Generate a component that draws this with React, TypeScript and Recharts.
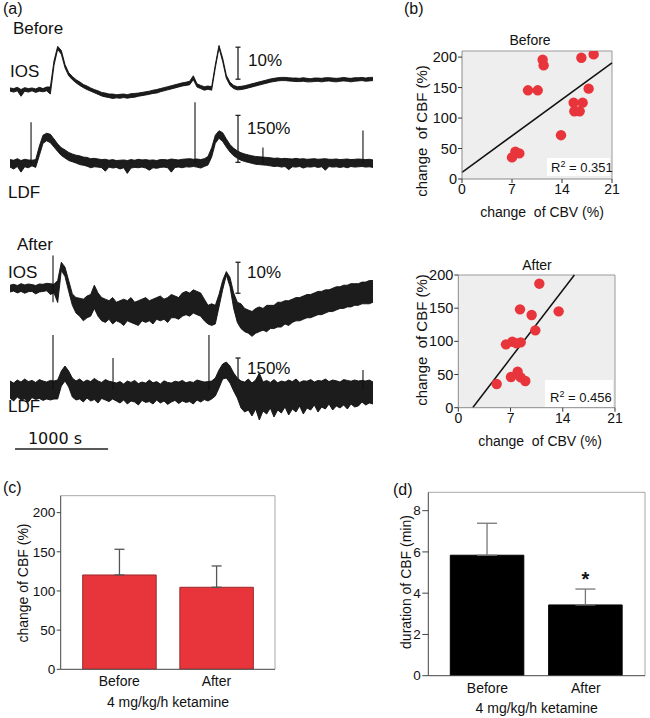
import React from 'react';
import {
  ComposedChart, Area, XAxis, YAxis, ReferenceLine, ScatterChart, Scatter,
  CartesianGrid, BarChart, Bar, ErrorBar, LabelList,
} from 'recharts';

const FONT = '"Liberation Sans", Arial, Helvetica, sans-serif';
const RED = '#e8353b';
const TEXT = '#111';

// ---------- (a) recordings: noise envelope (upper / lower) sampled every SAMPLE_SECONDS ----------
const SAMPLE_SECONDS = 39.4;
const SCALE_BAR_TIME = 2450;

const iosBeforeUpper = [
  0.7, 0.5, 0.9, 0.2, 0.8, 0.5, 0.7, 0.4, 0.9, 0.5, 1.0,
  1.0, 9.2, 13.7, 12.4, 8.0, 5.5, 4.3, 3.3, 2.6, 1.8, 1.3, 0.7, 0.2, -0.2,
  -0.7, -0.9, -1.2, -1.2, -1.4, -1.3, -1.2, -1.4, -1.1, -1.0, -0.9,
  -0.7, -0.5, -0.3, 0.0, 0.2, 0.5, 0.8, 1.1, 1.4, 1.7, 2.0,
  2.3, 2.5, 2.8, 4.5, 2.0, 1.5, 1.1, 1.3, 1.1,
  8.0, 14.0, 10.0, 4.7, 2.5, 1.5, 1.1, 1.2,
  1.4, 1.7, 2.0, 2.3, 2.6, 2.9, 3.2, 3.5, 3.7, 3.9, 4.0,
  4.0, 3.9, 3.8, 3.8, 3.7, 3.9, 3.7, 3.6, 3.8, 3.8, 3.7, 3.9, 3.9, 3.8, 3.7, 3.8, 4.0, 3.8, 3.7, 3.9, 3.9, 4.0, 3.8, 4.0, 4.0,
];
const iosBeforeLower = [
  -0.3, -0.6, -0.2, -1.9, -0.3, -0.6, -0.2, -0.7, -0.3, -0.5, -0.2,
  -1.2, 7.8, 12.8, 11.2, 7.0, 4.5, 3.3, 2.3, 1.5, 0.8, 0.2, -0.3, -0.8, -1.3,
  -1.8, -2.1, -2.3, -2.6, -2.4, -2.5, -2.3, -2.5, -2.3, -2.2, -1.9,
  -1.7, -1.5, -1.3, -1.0, -0.9, -0.5, -0.2, 0.1, 0.4, 0.7, 1.0,
  1.3, 1.5, 1.7, 3.3, 1.0, 0.5, 0.0, 0.3, 0.0,
  7.0, 13.2, 9.0, 3.7, 1.5, 0.5, 0.1, 0.2,
  0.4, 0.7, 1.0, 1.3, 1.6, 1.9, 2.2, 2.5, 2.7, 2.9, 3.0,
  3.0, 2.9, 2.8, 2.7, 2.7, 2.8, 2.6, 2.6, 2.7, 2.8, 2.6, 2.8, 2.9, 2.7, 2.6, 2.8, 2.9, 2.8, 2.6, 2.8, 2.9, 3.0, 2.8, 2.9, 3.0,
];

const ldfBeforeUpper = [
  12, 10, 15, 9, 13, 11,
  10,
  12, 55, 90, 96, 93, 78, 62, 50, 43, 35, 30, 26, 24, 20, 19, 15, 16,
  14, 12, 13, 10, 12, 9, 10, 11, 9, 12, 10, 13, 11, 12, 10, 11, 9, 12, 12, 11, 14, 12, 11, 13, 14, 15,
  13,
  14, 12, 15, 22,
  50, 90, 104, 98, 78, 60, 48, 40, 34, 30, 27, 24, 22, 21, 20, 19,
  18, 16, 17, 15, 16, 15, 14, 16, 14, 15, 13, 14, 15, 13, 14, 15, 13, 13, 14, 12, 13, 14, 12, 13, 14,
  13,
  12, 13, 11,
];
const ldfBeforeLower = [
  -12, -18, -10, -28, -11, -14,
  -8,
  -13, 25, 64, 72, 66, 52, 38, 25, 17, 9, 5, 1, -4, -6, -9, -14, -11,
  -12, -14, -25, -12, -15, -13, -18, -14, -32, -15, -13, -14, -12, -15, -22, -14, -16, -13, -12, -14, -28, -13, -12, -14, -11, -12,
  -10,
  -12, -15, -10, -5,
  20, 64, 80, 70, 52, 36, 24, 16, 10, 6, 3, 0, -3, -4, -5, -6,
  -8, -10, -9, -12, -10, -20, -11, -12, -10, -15, -11, -12, -10, -13, -11, -22, -10, -12, -11, -13, -11, -14, -10, -12, -11,
  -10,
  -12, -11, -13,
];
// thin artefact spikes: time (s), foot, tip
const ldfBeforeSpikeT = [226, 1988, 2718, 3793];
const ldfBeforeSpikeFoot = [0, 0, 0, 0];
const ldfBeforeSpikeTip = [131, 195, 51, 105];

const iosAfterUpper = [
  1.0, 1.3, 0.9, 1.5, 1.1, 1.4, 1.2, 0.9, 1.4, 1.3, 1.6,
  1.5,
  1.3, 2.5, 8.4, 6.8, 2.5, -1.8, -3.0, -3.2,
  -3.5, -2.5, -2.0, 1.0, -1.5, -3.0, -3.5, -4.0, -3.0, -4.5, -4.0, -3.5, -4.0, -3.0, -4.5, -4.0, -3.5, -3.0, -4.0, -3.5,
  -3.0, -2.5, -3.5, -3.0, -2.0, -2.5, -3.0, -1.5, -1.0, -1.5,
  -0.5, -1.0, -1.5, -3.5, -5.5, -5.0,
  -5.5, -2.0, 2.5, 5.4, 3.5, -1.5, -4.5, -5.0,
  -6.5, -7.0, -7.5, -6.5, -6.0, -6.5, -5.5, -5.5, -5.5, -4.5, -4.5, -4.0, -4.0, -3.5, -3.0, -3.0, -2.5, -2.0,
  -2.0, -1.5, -1.0, -1.0, -0.5, -0.5, 0.0, 0.5, 0.5, 1.0, 1.0, 1.5, 1.5, 1.5, 2.0, 2.0, 2.5, 2.5,
];
const iosAfterLower = [
  -1.2, -0.9, -1.5, -1.0, -1.6, -1.1, -1.0, -1.8, -1.2, -1.0, -0.8,
  -2.0,
  -1.5, -4.6, 5.8, 3.8, -1.0, -5.5, -8.0, -9.0,
  -10.5, -9.5, -9.0, -6.5, -9.0, -10.5, -11.0, -10.0, -11.5, -10.5, -11.0, -12.0, -10.5, -11.0, -11.5, -12.0, -10.5, -11.0, -10.5, -11.5,
  -10.0, -10.5, -10.0, -11.0, -9.5, -9.5, -10.0, -9.0, -8.5, -9.0,
  -8.0, -8.5, -9.0, -10.5, -11.5, -12.0,
  -11.5, -6.0, -0.5, 4.2, 0.5, -6.5, -11.0, -13.0,
  -14.0, -14.5, -15.5, -14.5, -14.0, -13.5, -14.0, -13.0, -13.0, -12.5, -12.5, -11.5, -12.0, -11.0, -10.5, -10.5, -10.0, -9.5,
  -9.5, -9.0, -8.5, -8.5, -8.0, -7.5, -7.5, -7.0, -6.5, -6.5, -6.0, -6.0, -5.5, -5.5, -5.0, -5.0, -5.0, -4.5,
];
const iosAfterSpikeT = [462];
const iosAfterSpikeFoot = [-4.5];
const iosAfterSpikeTip = [10.6];

const ldfAfterUpper = [
  45, 35, 50, 40, 55, 42, 48, 38, 52, 45, 40, 48,
  45, 50, 95, 120, 95, 60,
  45, 55, 40, 50, 42, 58, 45, 38, 52, 44,
  40,
  35, 42, 30, 45, 38, 48, 32, 40, 35, 50, 36, 42, 30, 46, 38, 35, 44, 40, 48, 36, 42, 38, 50, 45, 40,
  42,
  45, 60, 100, 130, 140, 120, 85, 60,
  45, 40, 55, 35, 50, 85, 40, 48, 38, 52, 36, 45, 40, 50, 42, 55, 38, 46, 44, 52, 40, 48, 45, 55, 42, 50, 46, 40, 52, 48, 44, 50, 45,
  48,
  45, 50, 40,
];
const ldfAfterLower = [
  -40, -55, -35, -50, -45, -60, -38, -48, -42, -52, -45, -50,
  -45, -45, 20, 45, 15, -35,
  -50, -45, -60, -40, -55, -48, -65, -42, -50, -58,
  -45,
  -55, -65, -50, -70, -55, -60, -75, -52, -62, -58, -70, -50, -65, -55, -72, -60, -52, -68, -55, -62, -58, -70, -50, -60, -48,
  -55,
  -45, -30, 10, 55, 60, 35, -5, -40,
  -90, -110, -100, -130, -95, -150, -105, -120, -90, -135, -100, -115, -85, -125, -95, -110, -80, -120, -90, -100, -75, -110, -85, -95, -70, -100, -80, -90, -75, -95, -70, -85, -80,
  -60,
  -75, -65, -70,
];
const ldfAfterSpikeT = [462, 1107, 2138, 3793];
const ldfAfterSpikeFoot = [0, 0, 0, 0];
const ldfAfterSpikeTip = [275, 160, 275, 100];

// ---------- (b) CBV vs CBF ----------
const cbvBefore = [7.0, 7.47, 8.03, 9.24, 10.6, 11.29, 11.43, 13.86, 15.63, 15.73, 16.47, 16.89, 16.71, 17.73, 18.43];
const cbfBefore = [35.4, 44.7, 42, 145.5, 145.5, 195.6, 186.4, 71.9, 125.3, 111.2, 111.2, 125.3, 198.9, 148.2, 204.4];
const fitBefore = { intercept: 10.9, slope: 8.56, r2: '0.351' };

const cbvAfter = [5.14, 7.06, 6.39, 7.24, 7.82, 8.36, 7.95, 8.36, 8.98, 8.27, 9.83, 10.32, 10.86, 13.45];
const cbfAfter = [35.7, 46.2, 95.5, 99.5, 97, 98.5, 54.3, 45.7, 40.2, 148.2, 139.7, 116.6, 186.9, 145.2];
const fitAfter = { intercept: -28.2, slope: 14.67, r2: '0.456' };

const cbvTicks = [0, 7, 14, 21];
const cbfTicks = [0, 50, 100, 150, 200];

// ---------- (c), (d) ----------
const groups = ['Before', 'After'];
const cbfChange = [120.4, 104.7];
const cbfChangeSem = [32.8, 27.2];
const cbfDuration = [5.84, 3.43];
const cbfDurationSem = [1.55, 0.77];
const significance = ['', '*'];
const durationTicks = [0, 2, 4, 6, 8];

// ---------- helpers ----------
function T({ x, y, size = 14, children, rotate = false, align = 'center', family = FONT, weight = 400 }: any) {
  const tx = align === 'center' ? '-50%' : '0';
  return (
    <div
      style={{
        position: 'absolute', left: x, top: y, fontSize: size, fontFamily: family, fontWeight: weight,
        lineHeight: 1, whiteSpace: 'pre', color: TEXT,
        transform: `translate(${tx}, -50%)${rotate ? ' rotate(-90deg)' : ''}`,
      }}
    >
      {children}
    </div>
  );
}

function Trace({ upper, lower, spikes, left, baselineY, width, pxPerUnit, lo, hi, scaleBar, timeBar }: any) {
  const height = (hi - lo) * pxPerUnit;
  const top = baselineY - hi * pxPerUnit;
  const data = upper.map((u: number, i: number) => ({ t: i * SAMPLE_SECONDS, band: [lower[i], u] }));
  const tMax = (upper.length - 1) * SAMPLE_SECONDS;
  const cap = 27;
  return (
    <div style={{ position: 'absolute', left, top, width, height }}>
      <ComposedChart width={width} height={height} data={data} margin={{ top: 0, right: 0, bottom: 0, left: 0 }}>
        <XAxis type="number" dataKey="t" domain={[0, tMax]} hide />
        <YAxis type="number" domain={[lo, hi]} hide allowDataOverflow />
        <Area type="linear" dataKey="band" stroke="#111" strokeWidth={0.9} fill="#1c1c1c" fillOpacity={1}
          dot={false} activeDot={false} isAnimationActive={false} />
        {spikes && spikes[0].map((t: number, k: number) => (
          <ReferenceLine key={k} ifOverflow="visible" stroke="#111" strokeWidth={1.1}
            segment={[{ x: t, y: spikes[1][k] }, { x: t, y: spikes[2][k] }]} />
        ))}
        <ReferenceLine ifOverflow="visible" stroke="#222" strokeWidth={1.3}
          segment={[{ x: SCALE_BAR_TIME, y: scaleBar[0] }, { x: SCALE_BAR_TIME, y: scaleBar[0] + scaleBar[1] }]} />
        <ReferenceLine ifOverflow="visible" stroke="#222" strokeWidth={1.3}
          segment={[{ x: SCALE_BAR_TIME - cap, y: scaleBar[0] }, { x: SCALE_BAR_TIME + cap, y: scaleBar[0] }]} />
        <ReferenceLine ifOverflow="visible" stroke="#222" strokeWidth={1.3}
          segment={[{ x: SCALE_BAR_TIME - cap, y: scaleBar[0] + scaleBar[1] }, { x: SCALE_BAR_TIME + cap, y: scaleBar[0] + scaleBar[1] }]} />
        {timeBar && (
          <ReferenceLine ifOverflow="visible" stroke="#222" strokeWidth={1.3}
            segment={[{ x: timeBar[0], y: timeBar[2] }, { x: timeBar[0] + timeBar[1], y: timeBar[2] }]} />
        )}
      </ComposedChart>
    </div>
  );
}

const tickStyle14 = { fontSize: 14, fill: TEXT, fontFamily: FONT };

function CorrPlot({ left, top, width, height, margin, yAxisWidth, xAxisHeight, xs, ys, yMax, fit }: any) {
  const data = xs.map((x: number, i: number) => ({ x, y: ys[i] }));
  const x0 = Math.max(0, (0 - fit.intercept) / fit.slope);
  const x1 = Math.min(21, (yMax - fit.intercept) / fit.slope);
  return (
    <div style={{ position: 'absolute', left, top, width, height }}>
      <ScatterChart width={width} height={height} margin={margin}>
        <CartesianGrid fill="#eeeeee" fillOpacity={1} stroke="#9a9a9a"
          horizontalCoordinatesGenerator={({ offset }: any) => [offset.top]}
          verticalCoordinatesGenerator={({ offset }: any) => [offset.left + offset.width]} />
        <XAxis type="number" dataKey="x" domain={[0, 21]} ticks={cbvTicks} height={xAxisHeight}
          tick={tickStyle14} tickSize={4} tickMargin={1} axisLine={{ stroke: '#8a8a8a' }} tickLine={{ stroke: '#333' }} allowDataOverflow />
        <YAxis type="number" dataKey="y" domain={[0, yMax]} ticks={cbfTicks} width={yAxisWidth}
          tick={{ ...tickStyle14, fontSize: 14.5 }} tickSize={4} tickMargin={1} axisLine={{ stroke: '#8a8a8a' }} tickLine={{ stroke: '#333' }} allowDataOverflow />
        <ReferenceLine ifOverflow="visible" stroke="#111" strokeWidth={1.5}
          segment={[{ x: x0, y: fit.intercept + fit.slope * x0 }, { x: x1, y: fit.intercept + fit.slope * x1 }]} />
        <Scatter data={data} isAnimationActive={false}
          shape={(p: any) => <circle cx={p.cx} cy={p.cy} r={5.2} fill={RED} />} />
      </ScatterChart>
    </div>
  );
}

function BarPanel({ left, top, width, height, margin, yAxisWidth, xAxisHeight, means, sems, yMax, yTicks, fill, stroke, errColor, capWidth, yTickSize, sig }: any) {
  const data = groups.map((g, i) => ({ group: g, mean: means[i], err: [0, sems[i]], sig: sig ? sig[i] : '' }));
  return (
    <div style={{ position: 'absolute', left, top, width, height }}>
      <BarChart width={width} height={height} data={data} margin={margin}>
        <CartesianGrid fill="none" stroke="#a8a8a8"
          horizontalCoordinatesGenerator={({ offset }: any) => [offset.top]}
          verticalCoordinatesGenerator={({ offset }: any) => [offset.left + offset.width]} />
        <XAxis dataKey="group" padding={{ left: 10, right: 10 }} height={xAxisHeight} tickLine={false}
          tickSize={4} tickMargin={3} tick={tickStyle14} axisLine={{ stroke: '#444' }} />
        <YAxis type="number" domain={[0, yMax]} ticks={yTicks} width={yAxisWidth} tickSize={yTickSize} tickMargin={1.5}
          tick={{ ...tickStyle14, fontSize: 13.5 }} axisLine={{ stroke: '#444' }} tickLine={{ stroke: '#444' }} allowDataOverflow />
        <Bar dataKey="mean" fill={fill} stroke={stroke} strokeWidth={1} barSize={73.5} isAnimationActive={false}>
          <ErrorBar dataKey="err" width={capWidth} stroke={errColor} strokeWidth={1.3} direction="y" />
          {sig && (
            <LabelList dataKey="sig" position="top" offset={19}
              style={{ fontSize: 20, fontWeight: 700, fill: TEXT, fontFamily: FONT }} />
          )}
        </Bar>
      </BarChart>
    </div>
  );
}

export default function App() {
  return (
    <div style={{ position: 'absolute', left: 0, top: 0, width: 650, height: 718, background: '#fff', overflow: 'hidden', fontFamily: FONT }}>
      {/* (a) */}
      <Trace upper={iosBeforeUpper} lower={iosBeforeLower} left={10} width={363} baselineY={90} pxPerUnit={3.2} lo={-6} hi={16} scaleBar={[3.44, 10]} />
      <Trace upper={ldfBeforeUpper} lower={ldfBeforeLower} spikes={[ldfBeforeSpikeT, ldfBeforeSpikeFoot, ldfBeforeSpikeTip]}
        left={10} width={363} baselineY={163} pxPerUnit={47 / 150} lo={-55} hi={215} scaleBar={[3.2, 150]} />
      <Trace upper={iosAfterUpper} lower={iosAfterLower} spikes={[iosAfterSpikeT, iosAfterSpikeFoot, iosAfterSpikeTip]}
        left={10} width={363} baselineY={288} pxPerUnit={3.1} lo={-16} hi={13} scaleBar={[-1.6, 10]} />
      <Trace upper={ldfAfterUpper} lower={ldfAfterLower} spikes={[ldfAfterSpikeT, ldfAfterSpikeFoot, ldfAfterSpikeTip]}
        left={10} width={363} baselineY={390} pxPerUnit={0.2} lo={-325} hi={300} scaleBar={[10, 150]}
        timeBar={[54, 1000, -295]} />

      <T x={3} y={9} size={16} align="left">(a)</T>
      <T x={13} y={27.5} size={17} align="left">Before</T>
      <T x={10} y={70.8} size={17} align="left">IOS</T>
      <T x={248} y={60} size={17} align="left">10%</T>
      <T x={247} y={127.5} size={17} align="left">150%</T>
      <T x={8} y={192} size={17} align="left">LDF</T>
      <T x={17} y={243.5} size={17} align="left">After</T>
      <T x={8} y={271.5} size={17} align="left">IOS</T>
      <T x={247} y={271.5} size={17} align="left">10%</T>
      <T x={247} y={367.5} size={17} align="left">150%</T>
      <T x={8} y={405.5} size={17} align="left">LDF</T>
      <T x={55} y={439} size={16} family='"DejaVu Sans", sans-serif'>1000 s</T>

      {/* (b) */}
      <T x={404} y={9} size={16} align="left">(b)</T>
      <CorrPlot left={400} top={20} width={230} height={200} margin={{ top: 31, right: 18, left: 0, bottom: 0 }}
        yAxisWidth={62} xAxisHeight={41} xs={cbvBefore} ys={cbfBefore} yMax={210} fit={fitBefore} />
      <T x={530} y={40} size={14}>Before</T>
      <T x={421} y={131} size={15} rotate>change  of CBF (%)</T>
      <T x={542} y={212} size={14}>change  of CBV (%)</T>
      <div style={{ position: 'absolute', left: 547, top: 158, width: 63, height: 18, background: '#fff' }} />
      <T x={551} y={167} size={13} align="left">R<sup style={{ fontSize: 9 }}>2</sup> = {fitBefore.r2}</T>

      <CorrPlot left={400} top={235} width={230} height={200} margin={{ top: 40, right: 15, left: 0, bottom: 0 }}
        yAxisWidth={58.3} xAxisHeight={27.3} xs={cbvAfter} ys={cbfAfter} yMax={200} fit={fitAfter} />
      <T x={537} y={265} size={14}>After</T>
      <T x={421} y={340} size={15} rotate>change  of CBF (%)</T>
      <T x={540} y={441} size={14}>change  of CBV (%)</T>
      <div style={{ position: 'absolute', left: 545, top: 380, width: 68, height: 27, background: '#fff' }} />
      <T x={550} y={397} size={13} align="left">R<sup style={{ fontSize: 9 }}>2</sup> = {fitAfter.r2}</T>

      {/* (c) */}
      <T x={3} y={487.5} size={16} align="left">(c)</T>
      <BarPanel left={0} top={470} width={300} height={248} margin={{ top: 25.7, right: 25, left: 0, bottom: 0 }}
        yAxisWidth={60.7} xAxisHeight={48.7} means={cbfChange} sems={cbfChangeSem} yMax={221.6} yTicks={cbfTicks}
        fill={RED} stroke="#9b2a2a" errColor="#555" capWidth={5} yTickSize={4} />
      <T x={22.5} y={583} size={14} rotate>change of CBF (%)</T>
      <T x={168} y={702} size={14}>4 mg/kg/h ketamine</T>

      {/* (d) */}
      <T x={393} y={490} size={16} align="left">(d)</T>
      <BarPanel left={340} top={470} width={310} height={248} margin={{ top: 22.3, right: 5, left: 0, bottom: 0 }}
        yAxisWidth={88.3} xAxisHeight={42.3} means={cbfDuration} sems={cbfDurationSem} yMax={8.89} yTicks={durationTicks}
        fill="#000" stroke="#000" errColor="#777" capWidth={10} yTickSize={6} sig={significance} />
      <T x={406} y={582} size={14} rotate>duration of CBF (min)</T>
      <T x={536.7} y={707.5} size={14}>4 mg/kg/h ketamine</T>
    </div>
  );
}
